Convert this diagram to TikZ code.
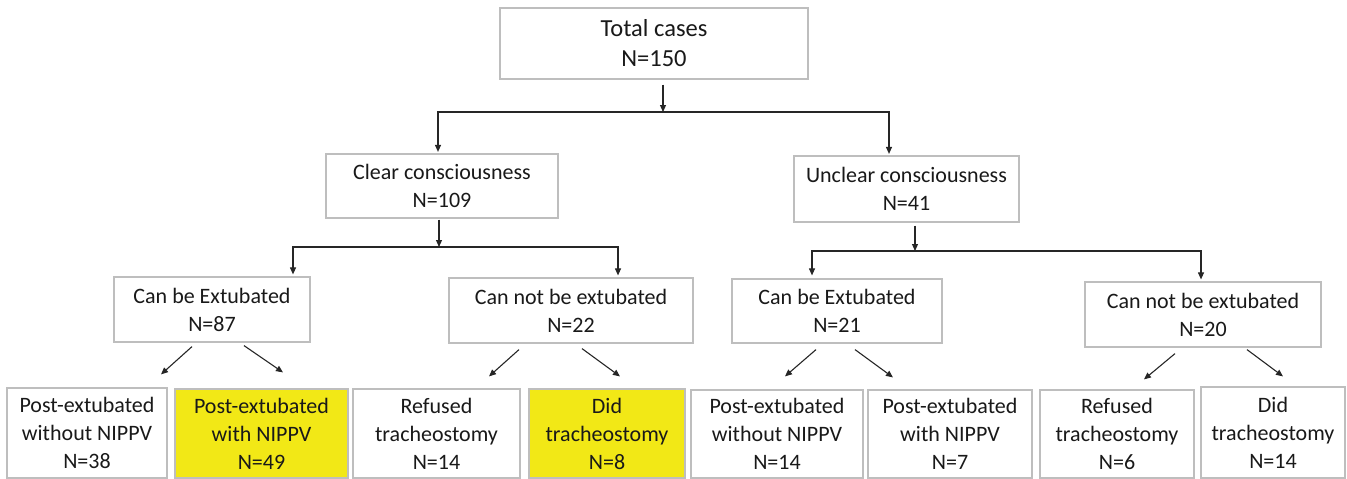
\documentclass[tikz,border=0pt]{standalone}
\usepackage{fontspec}
\setmainfont{Carlito}
\usetikzlibrary{arrows.meta}
\definecolor{boxline}{RGB}{190,190,190}
\definecolor{conn}{RGB}{38,38,38}
\definecolor{hilite}{RGB}{242,232,22}
\definecolor{txt}{RGB}{25,25,25}
\begin{document}
\begin{tikzpicture}[x=1pt,y=-1pt,
  box/.style={draw=boxline, line width=1.2pt, fill=white, inner sep=0pt, align=center,
    text=txt, font=\fontsize{22}{28}\selectfont},
  topbox/.style={box, font=\fontsize{24.5}{30}\selectfont},
  hl/.style={fill=hilite},
  arr/.style={draw=conn, line width=1.1pt, -{Triangle[length=7pt,width=6pt]}},
]
\useasboundingbox (0,0) rectangle (1347,479);

% level 0
\node[topbox, minimum width=308pt, minimum height=71pt] (top) at (654,43.5) {Total cases\\N=150};
% level 1
\node[box, minimum width=232pt, minimum height=64pt] (clear) at (442,186) {Clear consciousness\\N=109};
\node[box, minimum width=225pt, minimum height=66pt] (unclear) at (906.5,189) {Unclear consciousness\\N=41};
% level 2
\node[box, minimum width=196pt, minimum height=65pt] (ce1) at (212,309.5) {Can be Extubated\\N=87};
\node[box, minimum width=244pt, minimum height=65pt] (cn1) at (571,310.5) {Can not be extubated\\N=22};
\node[box, minimum width=210pt, minimum height=64pt] (ce2) at (837,311) {Can be Extubated\\N=21};
\node[box, minimum width=236pt, minimum height=65pt] (cn2) at (1203,314.5) {Can not be extubated\\N=20};
% level 3
\node[box, minimum width=160pt, minimum height=90pt] (b1) at (87,433) {Post-extubated\\without NIPPV\\N=38};
\node[box, hl, minimum width=173pt, minimum height=89pt] (b2) at (261.5,433.5) {Post-extubated\\with NIPPV\\N=49};
\node[box, minimum width=167pt, minimum height=89pt] (b3) at (436.5,433.5) {Refused\\tracheostomy\\N=14};
\node[box, hl, minimum width=156pt, minimum height=89pt] (b4) at (607,433.5) {Did\\tracheostomy\\N=8};
\node[box, minimum width=172pt, minimum height=88pt] (b5) at (777,434) {Post-extubated\\without NIPPV\\N=14};
\node[box, minimum width=164pt, minimum height=88pt] (b6) at (950,434) {Post-extubated\\with NIPPV\\N=7};
\node[box, minimum width=154pt, minimum height=88pt] (b7) at (1117,434) {Refused\\tracheostomy\\N=6};
\node[box, minimum width=144pt, minimum height=91pt] (b8) at (1273,432.5) {Did\\tracheostomy\\N=14};

% junctions
\coordinate (j0) at (663,112);
\coordinate (j1) at (439,247);
\coordinate (j2) at (915,251);

% top split
\draw[arr, shorten <=5pt] (top.south -| j0) -- (j0);
\draw[arr, shorten >=1.5pt] (j0) -| ([xshift=-4pt]clear.north);
\draw[arr, shorten >=1.5pt] (j0) -| ([xshift=-17.5pt]unclear.north);

% clear split
\draw[arr, shorten <=1pt] (clear.south -| j1) -- (j1);
\draw[arr, shorten >=2pt] (j1) -| ([xshift=81pt]ce1.north);
\draw[arr, shorten >=2pt] (j1) -| ([xshift=47pt]cn1.north);

% unclear split
\draw[arr, shorten <=3pt] (unclear.south -| j2) -- (j2);
\draw[arr, shorten >=3pt] (j2) -| ([xshift=-25pt]ce2.north);
\draw[arr, shorten >=2pt] (j2) -| ([xshift=-2pt]cn2.north);

% diagonal arrows
\draw[arr] ([shift={(-20,4)}]ce1.south) -- ([shift={(74,-13)}]b1.north);
\draw[arr] ([shift={(32,3)}]ce1.south) -- ([shift={(21.5,-16)}]b2.north);
\draw[arr] ([shift={(-52,6)}]cn1.south) -- ([shift={(52.5,-12)}]b3.north);
\draw[arr] ([shift={(11,5)}]cn1.south) -- ([shift={(13,-12)}]b4.north);
\draw[arr] ([shift={(-21,6)}]ce2.south) -- ([shift={(8,-13)}]b5.north);
\draw[arr] ([shift={(18,6)}]ce2.south) -- ([shift={(-57,-12)}]b6.north);
\draw[arr] ([shift={(-28,6)}]cn2.south) -- ([shift={(27,-10)}]b7.north);
\draw[arr] ([shift={(44,2)}]cn2.south) -- ([shift={(10,-10)}]b8.north);
\end{tikzpicture}
\end{document}
